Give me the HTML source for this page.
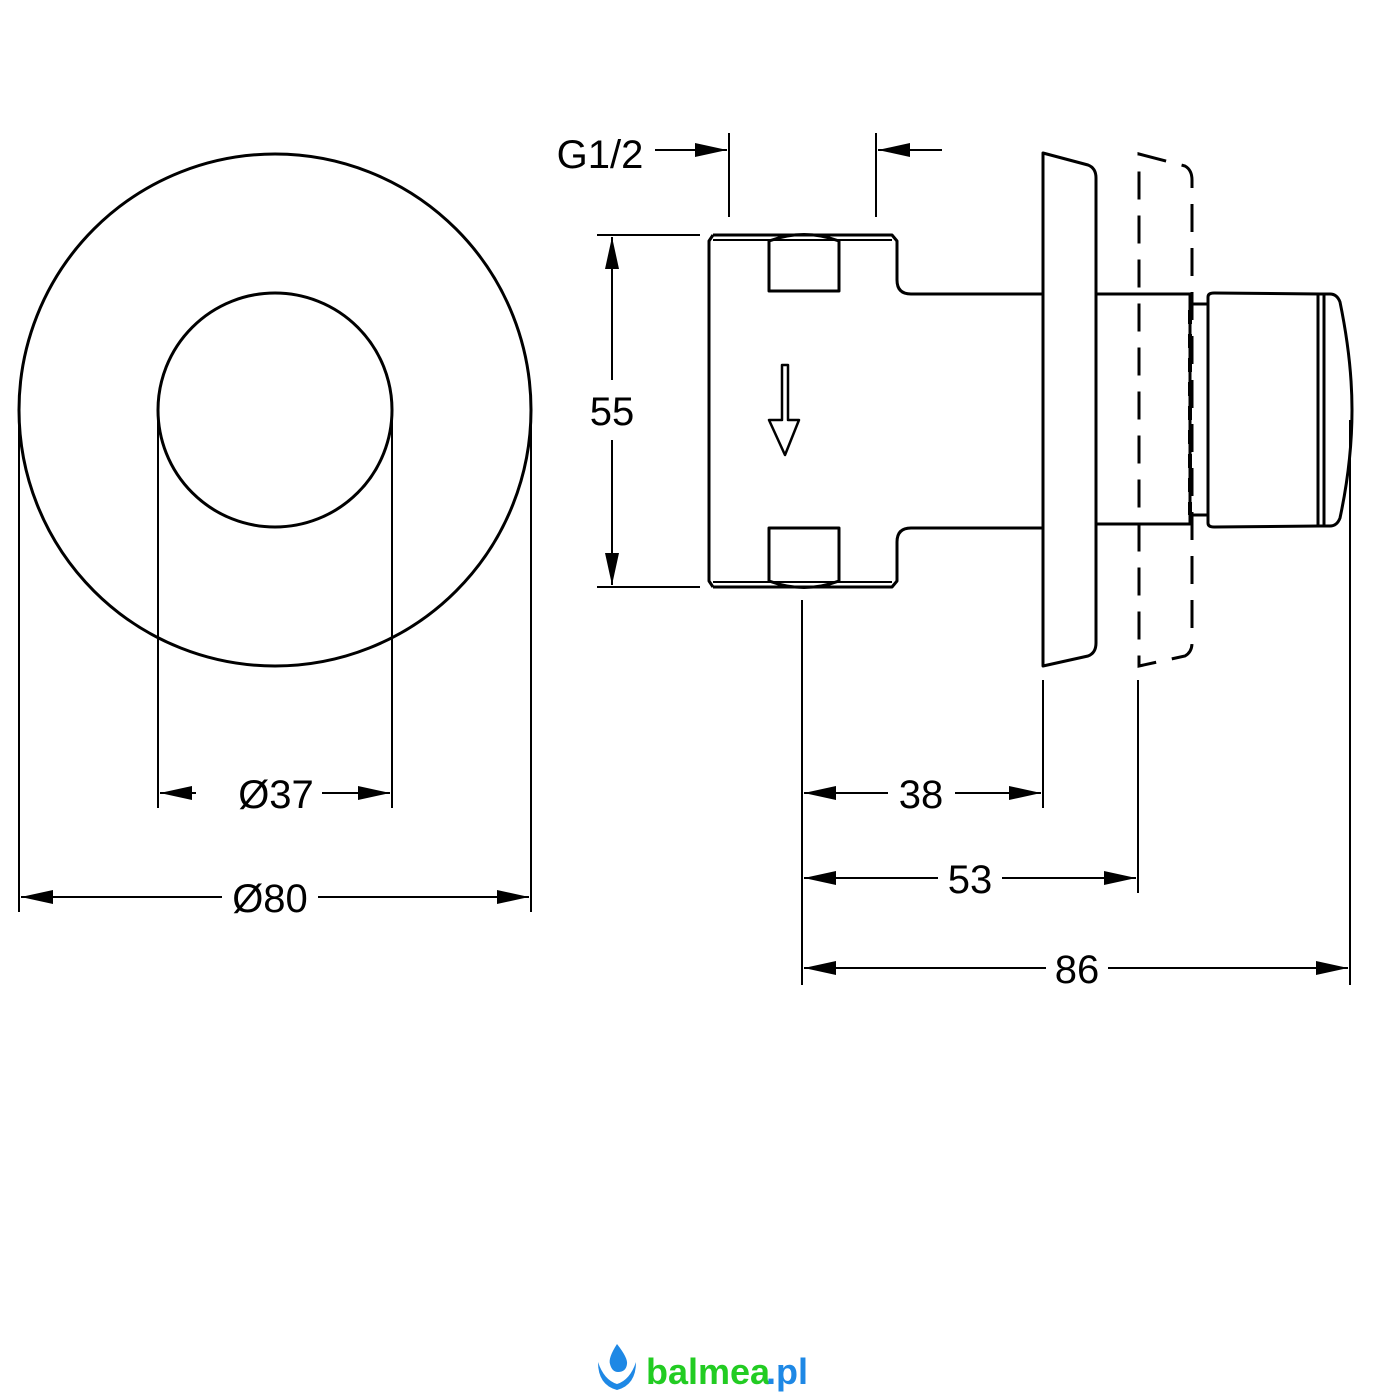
<!DOCTYPE html>
<html><head><meta charset="utf-8"><style>
html,body{margin:0;padding:0;background:#fff;}
svg{display:block}
text{font-family:"Liberation Sans",sans-serif;font-size:40px;fill:#000}
</style></head><body>
<svg width="1400" height="1400" viewBox="0 0 1400 1400" xmlns="http://www.w3.org/2000/svg">
<defs>
<marker id="a" viewBox="0 0 32 14" refX="32" refY="7" markerWidth="32" markerHeight="14" markerUnits="userSpaceOnUse" orient="auto-start-reverse"><path d="M0,0 L32,7 L0,14 Z" fill="#000"/></marker>
</defs>
<g fill="none" stroke="#000" stroke-width="3">
<circle cx="275" cy="410" r="256"/>
<circle cx="275" cy="410" r="117"/>
</g>
<g fill="none" stroke="#000" stroke-width="2">
<!-- left dims -->
<line x1="158" y1="410" x2="158" y2="808"/>
<line x1="392" y1="410" x2="392" y2="808"/>
<line x1="19" y1="410" x2="19" y2="912"/>
<line x1="531" y1="410" x2="531" y2="912"/>
<line x1="196" y1="793" x2="160" y2="793" marker-end="url(#a)"/>
<line x1="322" y1="793" x2="390" y2="793" marker-end="url(#a)"/>
<line x1="222" y1="897" x2="21" y2="897" marker-end="url(#a)"/>
<line x1="318" y1="897" x2="529" y2="897" marker-end="url(#a)"/>
<!-- 55 -->
<line x1="597" y1="235" x2="700" y2="235"/>
<line x1="597" y1="587" x2="700" y2="587"/>
<line x1="612" y1="380" x2="612" y2="237" marker-end="url(#a)"/>
<line x1="612" y1="440" x2="612" y2="585" marker-end="url(#a)"/>
<!-- G1/2 -->
<line x1="729" y1="133" x2="729" y2="217"/>
<line x1="876" y1="133" x2="876" y2="217"/>
<line x1="655" y1="150" x2="727" y2="150" marker-end="url(#a)"/>
<line x1="942" y1="150" x2="878" y2="150" marker-end="url(#a)"/>
<!-- bottom dims -->
<line x1="802" y1="600" x2="802" y2="985"/>
<line x1="1043" y1="680" x2="1043" y2="808"/>
<line x1="1138" y1="680" x2="1138" y2="893"/>
<line x1="1350" y1="420" x2="1350" y2="985"/>
<line x1="888" y1="793" x2="804" y2="793" marker-end="url(#a)"/>
<line x1="955" y1="793" x2="1041" y2="793" marker-end="url(#a)"/>
<line x1="938" y1="878" x2="804" y2="878" marker-end="url(#a)"/>
<line x1="1002" y1="878" x2="1136" y2="878" marker-end="url(#a)"/>
<line x1="1046" y1="968" x2="804" y2="968" marker-end="url(#a)"/>
<line x1="1108" y1="968" x2="1348" y2="968" marker-end="url(#a)"/>
</g>
<g fill="none" stroke="#000" stroke-width="3" stroke-linejoin="round">
<!-- body -->
<path d="M713,235 L892,235 L897,241 L897,280 Q897,294 911,294 L1043,294"/>
<path d="M713,587 L892,587 L897,581 L897,542 Q897,528 911,528 L1043,528"/>
<path d="M713,235 L709,241 L709,581 L713,587"/>
<line x1="713" y1="240" x2="892" y2="240" stroke-width="2"/>
<line x1="713" y1="582" x2="892" y2="582" stroke-width="2"/>
<path d="M769,241 L769,291 L839,291 L839,241"/>
<path d="M769,241 Q804,228 839,241"/>
<path d="M769,581 L769,528 L839,528 L839,581"/>
<path d="M769,581 Q804,594 839,581"/>
<!-- flow arrow -->
<path d="M782,365 L788,365 L788,420 L799,420 L785,455 L769,420 L782,420 Z" stroke-width="2.5"/>
<!-- plate -->
<path d="M1043,153 L1088,165 Q1096,168 1096,178 L1096,643 Q1096,653 1088,656 L1043,666 Z"/>
<!-- stem & knob -->
<path d="M1096,294 L1190,294 L1190,524 L1096,524"/>
<path d="M1190,304 L1208,304 M1190,515 L1208,515"/>
<path d="M1208,297 Q1208,293 1214,293 L1320,294 L1330,294 Q1337,294 1340,302 Q1352,360 1352,410 Q1352,462 1340,518 Q1337,526 1330,526 L1320,526 L1214,527 Q1208,527 1208,523 Z"/>
<line x1="1318" y1="294" x2="1318" y2="526"/>
<line x1="1324" y1="294" x2="1324" y2="526"/>
</g>
<g fill="none" stroke="#000" stroke-width="3" stroke-dasharray="28,16">
<path d="M1139,154 L1185,166 Q1192,170 1192,180 L1192,643 Q1192,652 1185,656 L1139,666 Z"/>
</g>
<g fill="none" stroke="#000" stroke-width="4" stroke-dasharray="14,10">
<line x1="1190" y1="310" x2="1190" y2="515"/>
</g>
<g>
<text x="276" y="808" text-anchor="middle">Ø37</text>
<text x="270" y="912" text-anchor="middle">Ø80</text>
<text x="612" y="425" text-anchor="middle">55</text>
<text x="600" y="168" text-anchor="middle">G1/2</text>
<text x="921" y="808" text-anchor="middle">38</text>
<text x="970" y="893" text-anchor="middle">53</text>
<text x="1077" y="983" text-anchor="middle">86</text>
</g>
<!-- logo -->
<g>
<path d="M617,1344 Q608,1358 610,1364 Q612,1372 618,1372 Q626,1372 627,1364 Q628,1358 617,1344 Z" fill="#1e88e5"/>
<path d="M598,1362 Q598,1385 617,1390 Q636,1385 636,1362 Q630,1380 617,1384 Q604,1380 598,1362 Z" fill="#1e88e5"/>
<text x="646" y="1384" style="font-size:36px;font-weight:bold;fill:#22cc22">balmea</text>
<text x="766" y="1384" style="font-size:36px;font-weight:bold;fill:#1e88e5">.pl</text>
</g>
</svg>
</body></html>
